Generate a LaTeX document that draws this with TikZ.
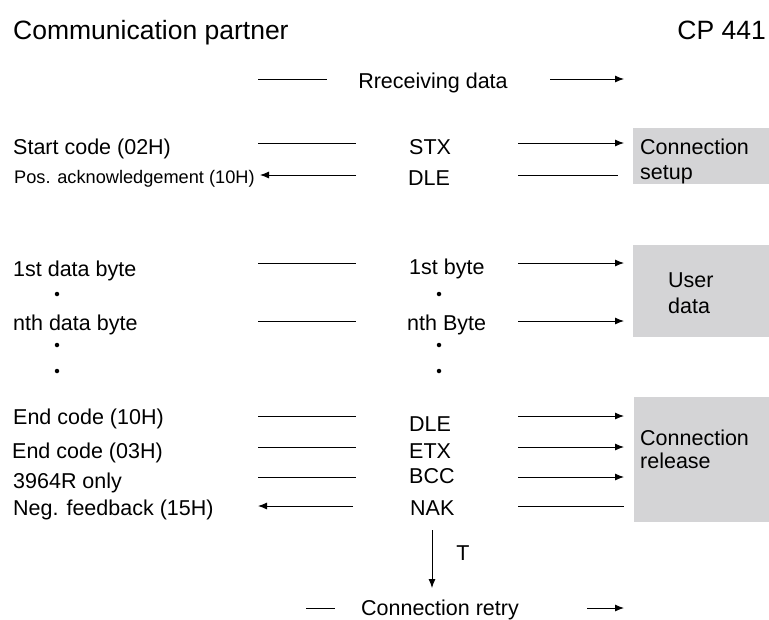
\documentclass[tikz,border=0pt]{standalone}
\usepackage{fontspec}
\setmainfont{Liberation Sans}
\usetikzlibrary{arrows.meta}

\definecolor{boxgray}{RGB}{212,212,214}

\tikzset{
  txt/.style={inner sep=0pt, font=\fontsize{21.5}{24}\selectfont},
  lbl/.style={txt, anchor=mid west},
  msg/.style={line width=0.9pt},
  tip/.style={msg, -{Latex[length=9pt,width=7pt]}},
  dot/.style={circle, fill, inner sep=0pt, minimum size=4.5pt}
}

\begin{document}
\begin{tikzpicture}[x=1pt,y=-1pt]
\useasboundingbox (0,0) rectangle (769,619);

% grey fields of the CP
\fill [boxgray] (633,128) rectangle (769,184) ;
\fill [boxgray] (633,245) rectangle (769,337) ;
\fill [boxgray] (634,397) rectangle (769,522) ;

% headings
\node [txt, anchor=mid west, font=\fontsize{26.5}{30}\selectfont] (partner) at (13,37) {Communication partner} ;
\node [txt, anchor=mid east, font=\fontsize{26.5}{30}\selectfont] (cp) at (766,37) {CP 441} ;
\node [txt, anchor=mid] (recv) at (433,86) {Rreceiving data} ;

% left column
\node [lbl] (start) at (13,152) {Start code (02H)} ;
\node [lbl, font=\fontsize{18.2}{21}\selectfont] (pos) at (14,181) {Pos. acknowledgement (10H)} ;
\node [lbl] (first) at (13,274) {1st data byte} ;
\node [lbl] (nth) at (13,328) {nth data byte} ;
\node [lbl] (endA) at (13,422) {End code (10H)} ;
\node [lbl] (endB) at (12,456) {End code (03H)} ;
\node [lbl] (only) at (13,486) {3964R only} ;
\node [lbl] (neg) at (13,513) {Neg. feedback (15H)} ;

% middle column
\node [lbl] (stx) at (409,152) {STX} ;
\node [lbl] (dle) at (408,183) {DLE} ;
\node [lbl] (byteA) at (409,272) {1st byte} ;
\node [lbl] (byteN) at (407,328) {nth Byte} ;
\node [lbl] (dleB) at (409,429) {DLE} ;
\node [lbl] (etx) at (409,456) {ETX} ;
\node [lbl] (bcc) at (409,481) {BCC} ;
\node [lbl] (nak) at (410,513) {NAK} ;
\node [txt, anchor=mid] (T) at (463,558) {T} ;
\node [txt, anchor=mid] (retry) at (440,613) {Connection retry} ;

% right column
\node [lbl] (setupA) at (640,152) {Connection} ;
\node [lbl] (setupB) at (640,177) {setup} ;
\node [lbl] (user) at (668,285) {User} ;
\node [lbl] (data) at (668,311) {data} ;
\node [lbl] (relA) at (640,443) {Connection} ;
\node [lbl] (relB) at (640,466) {release} ;

% dots
\foreach \y [count=\i] in {294,345,371} {
  \node [dot] (ldot\i) at (57,\y) {} ;
  \node [dot] (mdot\i) at (439,\y) {} ;
}

% line ends
\foreach \n/\y in {stx/143, dle/175, first/263, nth/321, dleB/416, etx/447, bcc/477, nak/506} {
  \coordinate (la-\n) at (258,\y) ;
  \coordinate (lb-\n) at (356,\y) ;
  \coordinate (ra-\n) at (518,\y) ;
  \coordinate (rb-\n) at (624,\y) ;
}
\coordinate (ta) at (258,79) ;
\coordinate (tb) at (327,79) ;
\coordinate (tc) at (550,79) ;
\coordinate (td) at (624,79) ;
\coordinate (ba) at (306,608) ;
\coordinate (bb) at (335,608) ;
\coordinate (bc) at (587,608) ;
\coordinate (bd) at (624,608) ;
\coordinate (wa) at (432,530) ;
\coordinate (wb) at (432,588) ;

\draw [msg] (ta) to (tb) ;
\draw [tip] (tc) to (td) ;

\draw [msg] (la-stx) to (lb-stx) ;
\draw [tip] (ra-stx) to (rb-stx) ;
\draw [tip, shorten >=2pt] (lb-dle) to (la-dle) ;
\draw [msg, shorten >=6pt] (ra-dle) to (rb-dle) ;

\draw [msg] (la-first) to (lb-first) ;
\draw [tip] (ra-first) to (rb-first) ;
\draw [msg] (la-nth) to (lb-nth) ;
\draw [tip] (ra-nth) to (rb-nth) ;

\draw [msg] (la-dleB) to (lb-dleB) ;
\draw [tip] (ra-dleB) to (rb-dleB) ;
\draw [msg] (la-etx) to (lb-etx) ;
\draw [tip] (ra-etx) to (rb-etx) ;
\draw [msg] (la-bcc) to (lb-bcc) ;
\draw [tip] (ra-bcc) to (rb-bcc) ;
\draw [tip, shorten <=3pt] (lb-nak) to (la-nak) ;
\draw [msg] (ra-nak) to (rb-nak) ;

\draw [tip] (wa) to (wb) ;
\draw [msg] (ba) to (bb) ;
\draw [tip] (bc) to (bd) ;

\end{tikzpicture}
\end{document}
